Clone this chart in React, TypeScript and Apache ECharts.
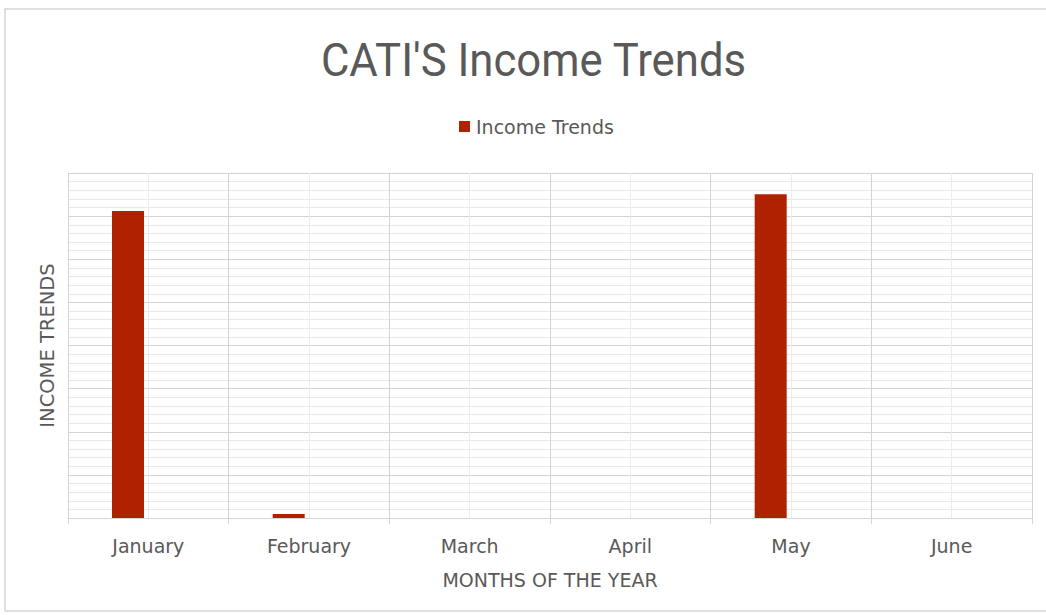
import React, { useEffect, useRef } from "react";
import * as echarts from "echarts";

const months = ["January", "February", "March", "April", "May", "June"];
const incomeValues = [7120, 90, 0, 0, 7510, 0];
const emptyValues = [0, 0, 0, 0, 0, 0];
const titleText = "CATI'S Income Trends";
const seriesName = "Income Trends";
const xAxisName = "MONTHS OF THE YEAR";
const yAxisName = "INCOME TRENDS";

export default function App() {
  const ref = useRef<HTMLDivElement>(null);
  useEffect(() => {
    if (!ref.current) return;
    const chart = echarts.init(ref.current, null, { renderer: "svg" });
    const labelFont = "'DejaVu Sans', sans-serif";
    chart.setOption({
      animation: false,
      backgroundColor: "#ffffff",
      graphic: [
        {
          type: "rect",
          shape: { x: 5, y: 9, width: 1060, height: 602 },
          style: { fill: "none", stroke: "#d6d6d6", lineWidth: 1.5 },
          silent: true,
          z: -1,
        },
        {
          type: "text",
          x: 533.5,
          y: 60,
          scaleX: 0.95,
          style: {
            text: titleText,
            font: "400 46px Roboto, sans-serif",
            fill: "#595959",
            align: "center",
            verticalAlign: "middle",
          },
        },
      ],
      legend: {
        data: [seriesName],
        left: 459,
        top: 117,
        padding: 0,
        itemWidth: 11,
        itemHeight: 11,
        itemGap: 10,
        icon: "rect",
        textStyle: { fontFamily: labelFont, fontSize: 19, color: "#595959", padding: [0, 0, 0, 1] },
      },
      grid: { left: 68, right: 14, top: 173, bottom: 97, containLabel: false },
      xAxis: [
        {
          type: "category",
          data: months,
          boundaryGap: true,
          name: xAxisName,
          nameLocation: "middle",
          nameGap: 52,
          nameTextStyle: { fontFamily: labelFont, fontSize: 19, color: "#595959" },
          axisLine: { show: true, lineStyle: { color: "#d6d6d6", width: 1 } },
          axisTick: { show: true, length: 6, lineStyle: { color: "#d6d6d6" } },
          axisLabel: { margin: 18, fontFamily: labelFont, fontSize: 19, color: "#595959" },
          splitLine: { show: false },
        },
        {
          type: "value",
          min: 0,
          max: 12,
          interval: 1,
          show: true,
          axisLine: { show: false },
          axisTick: { show: false },
          axisLabel: { show: false },
          splitLine: {
            show: true,
            lineStyle: { color: ["#d3d3d3", "#ececec"], width: 1 },
          },
        },
      ],
      yAxis: {
        type: "value",
        min: 0,
        max: 8000,
        interval: 1000,
        name: yAxisName,
        nameLocation: "middle",
        nameGap: 11,
        nameTextStyle: { fontFamily: labelFont, fontSize: 19.5, color: "#595959" },
        axisLine: { show: false },
        axisTick: { show: false },
        axisLabel: { show: false },
        splitLine: { show: true, lineStyle: { color: "#d3d3d3", width: 1 } },
        minorTick: { show: false, splitNumber: 5 },
        minorSplitLine: { show: true, lineStyle: { color: "#e8e8e8", width: 1 } },
      },
      series: [
        {
          name: seriesName,
          type: "bar",
          xAxisIndex: 0,
          data: incomeValues,
          barWidth: 32,
          barGap: "27%",
          itemStyle: { color: "#B02100" },
        },
        {
          name: "empty",
          type: "bar",
          xAxisIndex: 0,
          data: emptyValues,
          barWidth: 32,
          barGap: "27%",
          itemStyle: { color: "#B02100" },
        },
      ],
    });
    return () => chart.dispose();
  }, []);
  return (
    <div
      ref={ref}
      style={{ position: "absolute", left: 0, top: 0, width: 1046, height: 615 }}
    />
  );
}
